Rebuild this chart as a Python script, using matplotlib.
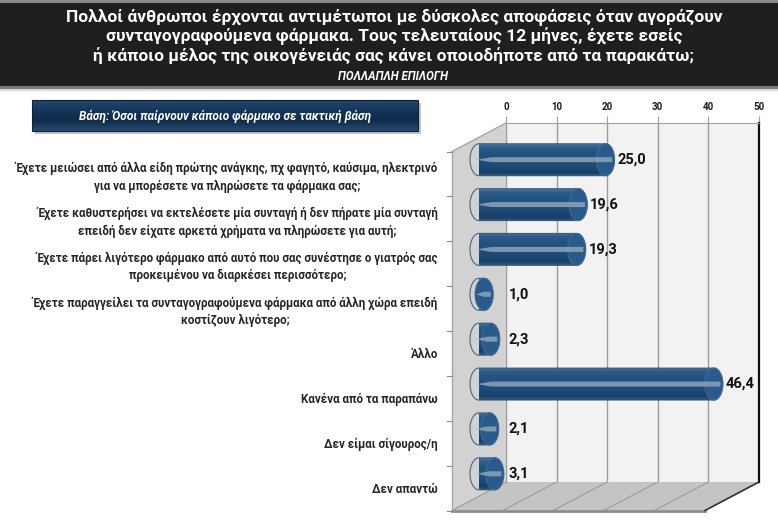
import numpy as np
import matplotlib
matplotlib.use("Agg")
import matplotlib.pyplot as plt
from matplotlib.patches import Rectangle, Polygon, Ellipse, PathPatch
from matplotlib.path import Path
from matplotlib.colors import LinearSegmentedColormap

plt.rcParams['font.family'] = ['Roboto', 'DejaVu Sans']

# ---------------- data ----------------
title_lines = [
    "Πολλοί άνθρωποι έρχονται αντιμέτωποι με δύσκολες αποφάσεις όταν αγοράζουν",
    "συνταγογραφούμενα φάρμακα. Τους τελευταίους 12 μήνες, έχετε εσείς",
    "ή κάποιο μέλος της οικογένειάς σας κάνει οποιοδήποτε από τα παρακάτω;",
]
subtitle = "ΠΟΛΛΑΠΛΗ ΕΠΙΛΟΓΗ"
base_text = "Βάση: Όσοι παίρνουν κάποιο φάρμακο σε τακτική βάση"
categories = [
    "Έχετε μειώσει από άλλα είδη πρώτης ανάγκης, πχ φαγητό, καύσιμα, ηλεκτρινό\nγια να μπορέσετε να πληρώσετε τα φάρμακα σας;",
    "Έχετε καθυστερήσει να εκτελέσετε μία συνταγή ή δεν πήρατε μία συνταγή\nεπειδή δεν είχατε αρκετά χρήματα να πληρώσετε για αυτή;",
    "Έχετε πάρει λιγότερο φάρμακο από αυτό που σας συνέστησε ο γιατρός σας\nπροκειμένου να διαρκέσει περισσότερο;",
    "Έχετε παραγγείλει τα συνταγογραφούμενα φάρμακα από άλλη χώρα επειδή\nκοστίζουν λιγότερο;",
    "Άλλο",
    "Κανένα από τα παραπάνω",
    "Δεν είμαι σίγουρος/η",
    "Δεν απαντώ",
]
values = [25.0, 19.6, 19.3, 1.0, 2.3, 46.4, 2.1, 3.1]
xticks = [0, 10, 20, 30, 40, 50]

# ---------------- figure ----------------
W, H = 778, 525
fig = plt.figure(figsize=(W / 100, H / 100), dpi=100)
fig.patch.set_facecolor('white')

def fx(px):
    return px / W

def fy(py):
    return 1 - py / H

bg = fig.add_axes([0, 0, 1, 1], zorder=0)
bg.set_xlim(0, W)
bg.set_ylim(H, 0)
bg.axis('off')

# header band
bg.add_patch(Rectangle((0, 0), W, 88, fc='#1f1f1f', ec='none'))
bg.add_patch(Rectangle((0, 0), W, 2.5, fc='#8a8a8a', ec='none'))
bg.add_patch(Rectangle((0, 86), W, 3, fc='#7a7a7a', ec='none'))
bg.add_patch(Rectangle((0, 89), W, 2, fc='#d8d8d8', ec='none'))
for k, line in enumerate(title_lines):
    bg.text(W / 2 + 5, 17 + 19.5 * k, line, ha='center', va='center',
            color='white', fontsize=12.5, fontweight='bold')
bg.text(W / 2 + 4, 76, subtitle, ha='center', va='center', color='white',
        fontsize=8.3, fontstyle='italic', fontweight='bold')

# base box
bg.add_patch(Rectangle((35, 103), 386, 31, fc='#a8a8a8', ec='none', alpha=0.7))
navy = LinearSegmentedColormap.from_list('navy', ['#24476d', '#163558', '#0f2b4b', '#2a4a6e'])
grad = np.linspace(0, 1, 64).reshape(-1, 1)
bg.imshow(grad, cmap=navy, extent=(32, 418, 131, 100), origin='upper',
          aspect='auto', zorder=2)
bg.add_patch(Rectangle((32, 100), 386, 31, fc='none', ec='#0c2240', lw=0.8, zorder=3))
bg.text(225, 116, base_text, ha='center', va='center', color='white',
        fontsize=8.6, fontstyle='italic', fontweight='bold', zorder=4)

# 3D box: left wall and floor
bx0, bx1, by0, by1 = 506, 759, 123, 482   # back wall
ddx, ddy = 54, 28.5                       # depth offset
bg.add_patch(Polygon([(bx0 - ddx, by0 + ddy), (bx0, by0), (bx0, by1), (bx0 - ddx, by1 + ddy)],
                     closed=True, fc='#d2d2d2', ec='none'))
bg.add_patch(Polygon([(bx0 - ddx, by1 + ddy), (bx0, by1), (bx1, by1), (bx1 - ddx, by1 + ddy)],
                     closed=True, fc='#c4c4c4', ec='none'))
scale = (bx1 - bx0) / (xticks[-1] - xticks[0])
for t in xticks:
    px = bx0 + scale * t
    bg.plot([px, px - ddx], [by1, by1 + ddy], color='#9a9a9a', lw=0.8)
bg.plot([bx0 - ddx, bx1 - ddx], [by1 + ddy, by1 + ddy], color='#8c8c8c', lw=2)
bg.plot([bx1 - ddx, bx1], [by1 + ddy, by1], color='#333333', lw=1.2)
bg.plot([bx0 - ddx, bx0], [by0 + ddy, by0], color='#a6a6a6', lw=1)
bg.plot([bx0 - ddx, bx0 - ddx], [by0 + ddy, by1 + ddy], color='#a6a6a6', lw=1)
n = len(categories)
step = (by1 - by0) / n
for k in range(n + 1):
    yy = by0 + ddy + step * k
    bg.plot([bx0 - ddx - 5, bx0 - ddx], [yy, yy], color='#8c8c8c', lw=0.8)

# back wall
axb = fig.add_axes([fx(bx0), fy(by1), (bx1 - bx0) / W, (by1 - by0) / H], zorder=1)
axb.set_facecolor('#f2f2f2')
axb.set_xlim(xticks[0], xticks[-1])
axb.set_ylim(0, 1)
axb.set_yticks([])
axb.set_xticks(xticks)
axb.xaxis.tick_top()
axb.tick_params(axis='x', top=True, bottom=False, length=5, color='#a0a0a0',
                labelsize=7, pad=3, labelcolor='#1a1a1a')
for lab in axb.get_xticklabels():
    lab.set_fontweight('bold')
axb.grid(axis='x', color='#9c9c9c', lw=1)
for s in ['left', 'top', 'bottom']:
    axb.spines[s].set_color('#a0a0a0')
axb.spines['bottom'].set_visible(False)
axb.spines['right'].set_color('#111111')
axb.spines['right'].set_linewidth(1.6)

# category labels on front plane
axl = fig.add_axes([fx(bx0 - ddx), fy(by1 + ddy), (bx1 - bx0) / W, (by1 - by0) / H], zorder=1.5)
axl.set_ylim(n - 0.5, -0.5)
axl.set_xlim(0, 1)
axl.patch.set_visible(False)
for s in axl.spines.values():
    s.set_visible(False)
axl.set_xticks([])
axl.set_yticks(range(n))
axl.set_yticklabels(categories)
axl.tick_params(axis='y', length=0, pad=10, labelsize=8.4, labelcolor='#262626')
for lab in axl.get_yticklabels():
    lab.set_fontweight('bold')
    lab.set_multialignment('center')
    lab.set_linespacing(1.4)

# bars in mid-depth plane
ax = fig.add_axes([fx(bx0 - ddx / 2), fy(by1 + ddy / 2), (bx1 - bx0) / W, (by1 - by0) / H], zorder=2)
ax.set_xlim(xticks[0], xticks[-1])
ax.set_ylim(n - 0.5, -0.5)
ax.axis('off')

a = 9 / scale          # half width of end ellipse (data units)
h = 32 / step          # bar thickness (category units)
sh = 5 / step          # highlight thickness
body_cmap = LinearSegmentedColormap.from_list(
    'cyl', [(0, '#4a759c'), (0.1, '#2d5c88'), (0.3, '#22527f'),
            (0.7, '#1d4a77'), (0.9, '#173f67'), (1, '#3b5a7a')])
theta_l = np.linspace(np.pi / 2, 3 * np.pi / 2, 40)
theta_r = np.linspace(-np.pi / 2, np.pi / 2, 40)
ys = np.arange(n)
for i, v in zip(ys, values):
    xl = 0 + a * np.cos(theta_l)
    yl = i - (h / 2) * np.sin(theta_l)
    xr = v + a * np.cos(theta_r)
    yr = i - (h / 2) * np.sin(theta_r)
    verts = np.column_stack([np.concatenate([xl, xr]), np.concatenate([yl, yr])])
    capsule = PathPatch(Path(np.vstack([verts, verts[:1]]), closed=True),
                        fc='none', ec='#284a6e', lw=0.8, alpha=0.8, zorder=3, clip_on=False)
    ax.add_patch(capsule)
    img = ax.imshow(np.linspace(0, 1, 64).reshape(-1, 1), cmap=body_cmap,
                    extent=(-a, v + a, i + h / 2, i - h / 2), origin='upper',
                    aspect='auto', zorder=2)
    img.set_clip_path(capsule)
    # end cap
    ax.add_patch(Ellipse((v, i), 2 * a, h, fc='#285b8b', ec='#3f6a94', lw=0.8,
                         zorder=3.5, clip_on=False))
    # highlight stripe (tapered at the left)
    x_start = -0.3 * a
    x_end = v + 0.75 * a
    taper = min(3.0, (x_end - x_start) * 0.5)
    stripe = Polygon([(x_start, i), (x_start + taper, i - sh / 2), (x_end, i - sh / 2),
                      (x_end, i + sh / 2), (x_start + taper, i + sh / 2)],
                     closed=True, fc='#8ea3ba', ec='none', alpha=0.85, zorder=4,
                     clip_on=False)
    ax.add_patch(stripe)
    ax.annotate(f"{v:.1f}".replace('.', ','), xy=(max(v, 3.5), i),
                xytext=(12 * 0.72, 0), textcoords='offset points',
                ha='left', va='center', fontsize=10.5, fontweight='bold',
                color='#111111', annotation_clip=False)
ax.set_xlim(xticks[0], xticks[-1])
ax.set_ylim(n - 0.5, -0.5)

fig.savefig('out.png', dpi=100)
